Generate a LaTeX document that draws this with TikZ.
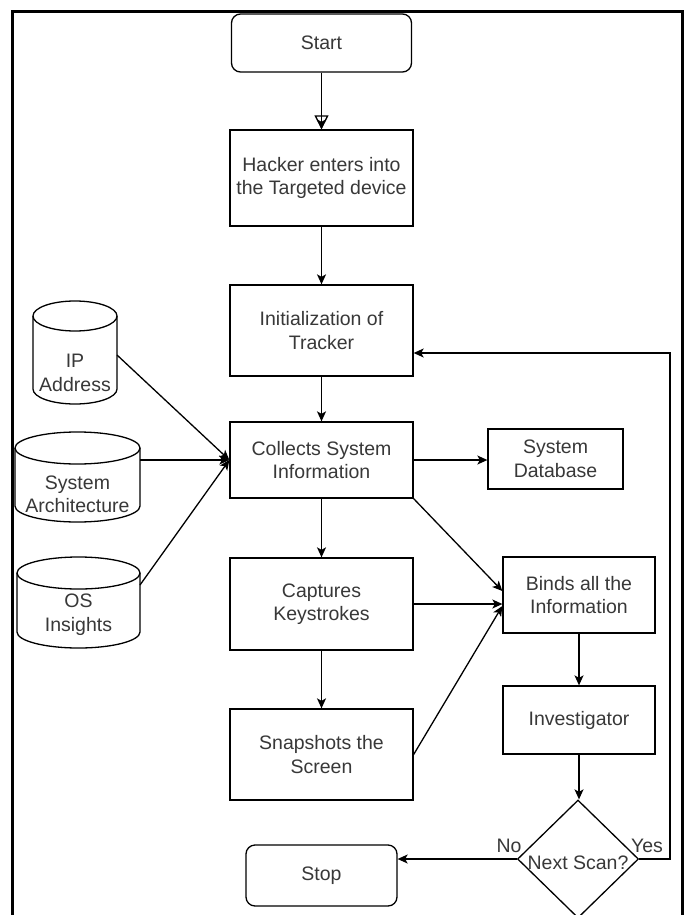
\documentclass[tikz,border=0pt]{standalone}
\usepackage{fontspec}
\setmainfont{Liberation Sans}
\usetikzlibrary{shapes.geometric,arrows.meta}
\newcommand{\mycyl}[8]{%
  \draw[lin] (#2,#4+#6) -- (#2,#5-#6) arc[start angle=180,end angle=0,x radius={(#3-#2)/2},y radius=#6] -- (#3,#4+#6);
  \draw[lin] ({(#2+#3)/2},#4+#6) ellipse[x radius={(#3-#2)/2},y radius=#6];
  \node[align=center] (#1) at ({(#2+#3)/2},#7) {#8};
}
\begin{document}
\begin{tikzpicture}[x=1pt,y=-1pt,
  every node/.style={font=\fontsize{19.5}{23.5}\selectfont, text=black!78},
  lin/.style={line width=1.3pt, draw=black},
  box/.style={draw, line width=1.3pt, minimum width=183pt, align=center, inner sep=0pt},
  term/.style={draw, line width=1.3pt, rounded corners=9pt, align=center, inner sep=0pt},
  arr/.style={line width=1.3pt, -{Stealth[length=10pt,width=9pt,inset=2.5pt]}}]
\useasboundingbox (0,0) rectangle (686,915);
\fill[white] (0,0) rectangle (686,915);
\draw[line width=3pt] (12,915) -- (12,12) -- (682,12) -- (682,915);

\node[term, minimum width=180pt, minimum height=58pt] (start) at (321.5,43) {Start};
\node[box, minimum height=96pt] (hacker) at (321.5,178) {Hacker enters into\\the Targeted device};
\node[box, minimum height=91pt] (init) at (321.5,330.5) {Initialization of\\Tracker};
\node[box, minimum height=76pt] (collect) at (321.5,460) {Collects System\\Information};
\node[box, minimum height=92pt] (capture) at (321.5,604) {Captures\\Keystrokes};
\node[box, minimum height=91pt] (snap) at (321.5,754.5) {Snapshots the\\Screen};
\node[box, minimum width=135pt, minimum height=60pt] (sysdb) at (555.5,459) {System\\Database};
\node[box, minimum width=152pt, minimum height=76pt] (binds) at (579,595) {Binds all the\\Information};
\node[box, minimum width=152pt, minimum height=68pt] (inv) at (579,720) {Investigator};
\node[diamond, draw, line width=1.3pt, minimum width=121pt, minimum height=118pt, inner sep=0pt,
      label={[yshift=-4pt]center:Next Scan?}] (dec) at (578,859) {};
\node[term, minimum width=151pt, minimum height=61pt] (stop) at (321.5,875.5) {Stop};
\node (no) at (509,846) {No};
\node (yes) at (647,846) {Yes};

\mycyl{ip}{33}{117}{301}{404}{15}{373}{IP\\Address}
\mycyl{sa}{15}{140}{432}{522}{16}{494.5}{System\\Architecture}
\mycyl{os}{17}{140}{557}{648}{16}{614.5}{OS\\Insights}

\coordinate (ipout) at (117,355);
\coordinate (saout) at (140,460);
\coordinate (osout) at (140,585);
\coordinate (yesr) at (670,353);

\draw[line width=1.3pt, -{Triangle[open,length=14pt,width=14pt,line width=1.3pt]}] (start) -- (hacker);
\draw[arr] (start) -- (hacker);
\draw[arr] (hacker) -- (init);
\draw[arr] (init) -- (collect);
\draw[arr] (collect) -- (capture);
\draw[arr] (capture) -- (snap);
\draw[arr] (collect.east) -- (collect.east -| sysdb.west);
\draw[arr] (collect.south east) -- ([yshift=4pt]binds.west);
\draw[arr] (capture.east) -- (capture.east -| binds.west);
\draw[arr] (snap.east) -- ([yshift=-11pt]binds.west);
\draw[arr] (binds) -- (inv);
\draw[arr] (inv.south) -- (inv.south |- dec.north);
\draw[arr] (dec.west) -- (dec.west -| stop.east);
\draw[arr] (dec.east) -| (yesr) -- (yesr -| init.east);
\draw[arr] (ipout) -- (collect.west);
\draw[arr] (saout) -- (collect.west);
\draw[arr] (osout) -- (collect.west);
\end{tikzpicture}
\end{document}
